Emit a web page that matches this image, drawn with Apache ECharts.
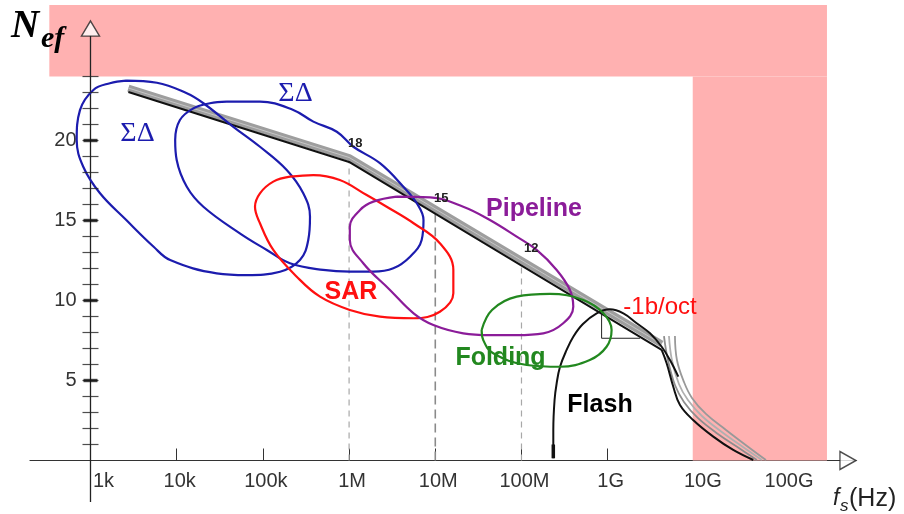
<!DOCTYPE html>
<html><head><meta charset="utf-8">
<script src="https://cdn.jsdelivr.net/npm/echarts@6/dist/echarts.min.js"></script>
<style>html,body{margin:0;padding:0;background:#fff}#c{width:904px;height:514px}</style>
</head><body><div id="c"></div>
<script>
// ---- tick values / labels ----
const xTickValues = [1e3, 1e4, 1e5, 1e6, 1e7, 1e8, 1e9, 1e10, 1e11];
const xTickLabels = ['1k', '10k', '100k', '1M', '10M', '100M', '1G', '10G', '100G'];
const yLabelValues = [5, 10, 15, 20];
const yMinorTicks = [1,2,3,4,5,6,7,8,9,10,11,12,13,14,15,16,17,18,19,20,21,22,23,24];
const yMajorTicks = [5, 10, 15, 20];

// ---- regions [frequency Hz, Nef bits] ----
const sigmaDeltaA = [[2.6e3,23.74],[5.9e3,23.61],[1.31e4,22.95],[2.04e4,22.33],[4.54e4,20.86],[9.25e4,19.61],[1.89e5,18.16],[2.94e5,16.7],[3.52e5,15.24],[3.36e5,13.78],[2.69e5,12.53],[1.58e5,11.8],[6.5e4,11.59],[2.91e4,11.7],[8.4e3,12.53],[5.4e3,13.36],[2.6e3,15.03],[1.29e3,16.7],[824,18.36],[692,20.03],[755,21.9],[1.08e3,23.16],[1.68e3,23.58],[2.6e3,23.74]];
const sigmaDeltaB = [[3.8e4,22.43],[9.25e4,22.43],[2.25e5,21.91],[3.85e5,21.18],[7.2e5,20.55],[1.12e6,19.61],[2.28e6,18.58],[4.26e6,17.11],[6.1e6,16.08],[7.3e6,15.03],[6.95e6,13.78],[5.1e6,12.74],[3.26e6,12.01],[1.91e6,11.8],[1.02e6,11.8],[5.0e5,11.91],[2.06e5,12.33],[1.11e5,13.16],[5.4e4,14.2],[2.04e4,15.86],[1.31e4,17.11],[1.0e4,18.78],[9.6e3,20.03],[1.09e4,21.28],[1.56e4,22.01],[2.43e4,22.33],[3.8e4,22.43]];
const sar = [[2.06e5,17.74],[3.85e5,17.84],[7.8e5,17.53],[1.6e6,16.59],[2.73e6,15.86],[5.6e6,14.83],[1.13e7,13.58],[1.62e7,11.91],[1.62e7,10.45],[1.13e7,9.3],[5.6e6,8.89],[2.28e6,8.99],[1.02e6,9.41],[4.6e5,10.24],[2.47e5,11.49],[1.32e5,13.16],[9.25e4,14.83],[8.1e4,15.86],[9.25e4,16.7],[1.32e5,17.43],[2.06e5,17.74]];
const pipeline = [[3.56e6,16.49],[8.7e6,16.45],[2.11e7,15.86],[4.3e7,15.03],[8.8e7,13.99],[1.5e8,13.16],[2.56e8,11.91],[3.65e8,10.66],[3.99e8,9.61],[3.05e8,8.58],[1.79e8,7.95],[8.8e7,7.84],[4.3e7,7.84],[2.11e7,7.95],[9.5e6,8.47],[5.6e6,9.2],[2.98e6,10.66],[1.46e6,12.33],[1.02e6,13.78],[1.02e6,14.61],[1.34e6,15.66],[1.91e6,16.18],[3.56e6,16.49]];
const folding = [[3.45e7,8.16],[4.55e7,9.41],[8.8e7,10.24],[2.14e8,10.41],[5.2e8,10.03],[8.9e8,9.2],[1.11e9,8.16],[9.7e8,7.11],[6.2e8,6.28],[2.8e8,5.86],[1.15e8,5.97],[4.7e7,6.7],[3.6e7,7.53],[3.45e7,8.16]];
const flash = [[2.34e8,0.14],[2.34e8,1.91],[2.42e8,3.78],[2.56e8,4.83],[2.8e8,5.86],[3.34e8,6.91],[3.99e8,7.74],[5.16e8,8.53],[7.45e8,9.2],[1.06e9,9.45],[1.52e9,9.2],[2.17e9,8.58],[3.1e9,7.95],[4.23e9,7.11],[5.28e9,6.28],[6.6e9,5.24]];
const flashFoot = [[2.34e8,0.14],[2.34e8,1.0]];

// ---- performance bound ----
const boundGray = [[2.75e3,23.28],[1e6,18.94],[4.23e9,7.28]];
const boundBlack = [[2.75e3,23.03],[1e6,18.66],[4.23e9,6.91]];
const boundBlackTail = [[4.23e9,6.91],[4.83e9,6.08],[5.77e9,4.61],[6.9e9,3.47],[9.8e9,2.53],[1.68e10,1.49],[2.86e10,0.66],[4.89e10,0.03]];
const grayTail1 = [[4.5e9,7.78],[5.0e9,6.28],[6.03e9,4.72],[7.67e9,3.66],[1.11e10,2.66],[1.9e10,1.66],[3.33e10,0.78],[5.38e10,0.03]];
const grayTail2 = [[5.14e9,7.78],[5.56e9,6.28],[6.71e9,4.78],[8.53e9,3.78],[1.24e10,2.78],[2.11e10,1.78],[3.71e10,0.84],[6.15e10,0.03]];
const grayTail3 = [[6.03e9,7.78],[6.36e9,6.28],[7.67e9,4.91],[9.5e9,3.91],[1.38e10,2.91],[2.36e10,1.91],[4.13e10,0.91],[6.86e10,0.03]];
const slopeMarker = [[8.5e8,9.2],[8.5e8,7.64],[2.37e9,7.64]];

// ---- dashed guides ----
const dashFreqs = [1e6, 1e7, 1e8];
const dashTops = [19.2, 15.7, 12.7];
const dashLabels = ['18', '15', '12'];

// ---- forbidden (pink) region ----
const pinkLeft = 333, pinkInner = 9.7e9, pinkRight = 3.5e11;
const pinkInnerTop = 24, pinkTop = 28.47;

// ---- axes geometry ----
const X_MIN = 198.7, X_MAX = 7.6e11, Y_MIN = 0, Y_MAX = 28.47;
const yAxisLine = [[1e3, -2.6], [1e3, 26.55]];
const yArrow = [[1e3, 27.0]];
const xArrow = [[6.13e11, 0]];

const SANS = '"Liberation Sans", Arial, sans-serif';
const SERIF = '"Liberation Serif", "Times New Roman", serif';

const base = {type: 'line', showSymbol: false, symbol: 'none', animation: false, silent: true};
function curve(data, color, width, extra) {
  return Object.assign({}, base, {data: data, lineStyle: {color: color, width: width}, z: 5}, extra || {});
}

const series = [];
// y axis line + pink region
series.push(curve(yAxisLine, '#222', 1.3, {
  z: 4, clip: false,
  markArea: {
    silent: true, z: 1,
    itemStyle: {color: '#ffb1b1', opacity: 1},
    label: {show: false},
    data: [
      [{coord: [pinkLeft, pinkInnerTop]}, {coord: [pinkRight, pinkTop]}],
      [{coord: [pinkInner, 0]}, {coord: [pinkRight, pinkInnerTop]}]
    ]
  }
}));
// dashed guides
dashFreqs.forEach(function (f, i) {
  series.push(curve([[f, 0], [f, dashTops[i]]], '#aaa', 1.2,
    {z: 3, lineStyle: {color: i === 1 ? '#8a8a8a' : '#a8a8a8', width: i === 1 ? 1.6 : 1.2, type: i === 1 ? [9, 5] : [6, 5]}}));
});
// bound
series.push(curve(boundGray, '#9e9e9e', 7, {z: 4}));
series.push(curve(boundGray, '#c6c6c6', 1, {z: 4}));
series.push(curve(grayTail1, '#8e8e8e', 1.8, {smooth: 0.4, z: 4}));
series.push(curve(grayTail2, '#b0b0b0', 1.8, {smooth: 0.4, z: 4}));
series.push(curve(grayTail3, '#999999', 1.8, {smooth: 0.4, z: 4}));
series.push(curve(boundBlack, '#111', 2, {z: 5}));
series.push(curve(boundBlackTail, '#111', 2, {smooth: 0.4, z: 5}));
series.push(curve(flash, '#111', 2, {smooth: 0.4, z: 5}));
series.push(curve(flashFoot, '#111', 3.5, {z: 5}));
series.push(curve(slopeMarker, '#222', 1, {z: 5}));
// regions
series.push(curve(sigmaDeltaA, '#1c1cae', 2.2, {smooth: 0.4, z: 6}));
series.push(curve(sigmaDeltaB, '#1c1cae', 2.2, {smooth: 0.4, z: 6}));
series.push(curve(sar, '#ff1010', 2.2, {smooth: 0.4, z: 6}));
series.push(curve(pipeline, '#8b1c99', 2.2, {smooth: 0.4, z: 6}));
series.push(curve(folding, '#22881f', 2.2, {smooth: 0.4, z: 6}));
// y ticks and arrows
series.push({type: 'scatter', animation: false, silent: true, z: 6, symbol: 'rect', symbolSize: [16, 1.2],
  itemStyle: {color: '#222'}, data: yMinorTicks.map(function (v) { return [1e3, v]; })});
series.push({type: 'scatter', animation: false, silent: true, z: 6, symbol: 'rect', symbolSize: [14, 3.4],
  itemStyle: {color: '#111'}, data: yMajorTicks.map(function (v) { return [1e3, v]; })});
series.push({type: 'scatter', animation: false, silent: true, z: 7, clip: false, symbol: 'triangle', symbolSize: [18, 15],
  itemStyle: {color: '#fff', borderColor: '#222', borderWidth: 1.4}, data: yArrow});
series.push({type: 'scatter', animation: false, silent: true, z: 7, clip: false, symbol: 'triangle', symbolSize: [18, 16], symbolRotate: -90,
  itemStyle: {color: '#fff', borderColor: '#222', borderWidth: 1.4}, data: xArrow});

function txt(x, y, text, font, fill, align) {
  return {type: 'text', x: x, y: y, z: 100, silent: true,
    style: {text: text, font: font, fill: fill, align: align || 'center', textAlign: align || 'center',
      verticalAlign: 'middle', textVerticalAlign: 'middle'}};
}

const option = {
  animation: false,
  backgroundColor: '#fff',
  grid: {left: 30, right: 48, top: 5, bottom: 53.5, containLabel: false, outerBoundsMode: 'none'},
  xAxis: {
    type: 'log', logBase: 10, min: X_MIN, max: X_MAX,
    axisLine: {onZero: false, lineStyle: {color: '#333', width: 1.2}},
    axisTick: {show: true, inside: true, length: 12, customValues: xTickValues.slice(1), lineStyle: {color: '#333', width: 1}},
    minorTick: {show: false},
    splitLine: {show: false},
    axisLabel: {
      customValues: xTickValues, margin: 11, color: '#333', fontSize: 20, fontFamily: SANS,
      formatter: function (v) {
        const i = Math.round(Math.log10(v)) - 3;
        const t = xTickLabels[i];
        if (i === 0) return '{k|' + t + '}';
        if (i >= 7) return '{g|' + t + '}';
        return '{d|' + t + '}';
      },
      rich: {
        k: {fontSize: 20, fontFamily: SANS, color: '#333', padding: [0, 0, 0, 26]},
        d: {fontSize: 20, fontFamily: SANS, color: '#333', padding: [0, 0, 0, 6]},
        g: {fontSize: 20, fontFamily: SANS, color: '#333', padding: [0, 0, 0, 18]}
      }
    }
  },
  yAxis: {
    type: 'value', min: Y_MIN, max: Y_MAX, offset: -60.5,
    axisLine: {show: false}, axisTick: {show: false}, splitLine: {show: false},
    axisLabel: {customValues: yLabelValues, margin: 14, color: '#333', fontSize: 20, fontFamily: SANS}
  },
  series: series,
  graphic: [
    txt(11, 27, 'N', 'italic bold 39px ' + SERIF, '#000', 'left'),
    txt(41, 39, 'ef', 'italic bold 30px ' + SERIF, '#000', 'left'),
    txt(137.5, 134, 'ΣΔ', '28px ' + SERIF, '#1c1cae'),
    txt(295.5, 93.5, 'ΣΔ', '28px ' + SERIF, '#1c1cae'),
    txt(351, 292, 'SAR', 'bold 25px ' + SANS, '#ff1010'),
    txt(534, 209, 'Pipeline', 'bold 25px ' + SANS, '#8b1c99'),
    txt(500.5, 358, 'Folding', 'bold 25px ' + SANS, '#22881f'),
    txt(600, 405, 'Flash', 'bold 25px ' + SANS, '#000'),
    txt(660, 307, '-1b/oct', '24px ' + SANS, '#ff1010'),
    txt(348, 143, dashLabels[0], 'bold 13px ' + SANS, '#222', 'left'),
    txt(434, 198, dashLabels[1], 'bold 13px ' + SANS, '#222', 'left'),
    txt(524, 248, dashLabels[2], 'bold 13px ' + SANS, '#222', 'left'),
    txt(833, 499, 'f', 'italic 23px ' + SANS, '#222', 'left'),
    txt(840, 506, 's', 'italic 17px ' + SANS, '#222', 'left'),
    txt(849, 499, '(Hz)', '25px ' + SANS, '#222', 'left')
  ]
};

const chart = echarts.init(document.getElementById('c'), null, {renderer: 'canvas'});
chart.setOption(option);
</script>
</body></html>
